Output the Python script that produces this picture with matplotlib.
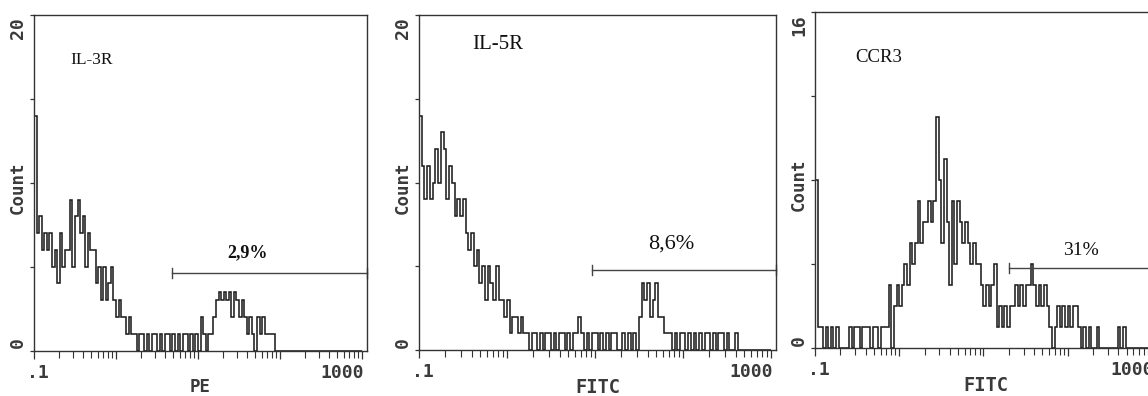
import numpy as np
import matplotlib
matplotlib.use("Agg")
import matplotlib.pyplot as plt

# ---------------- data ----------------
# 128 log-spaced channels from 0.1 to 1000 (32 channels per decade)
il3r_counts = [14,
               7, 8, 6, 7, 6,
               7, 5, 6, 4, 7, 5, 6,
               6, 9, 5, 8, 9, 7,
               8, 5, 7, 6,
               6, 4, 5, 3,
               5, 3, 4, 5,
               3, 2, 3, 2,
               2, 1, 2, 1,
               1, 0, 1, 1,
               0, 1, 0, 1, 1, 0, 1, 0, 1, 1, 0, 1, 0, 1, 0, 1, 1, 0, 1, 0,
               1, 0, 2, 1, 0, 1,
               1, 2, 3, 3.5, 3, 3.5, 3, 3.5, 2, 3.5, 3, 2, 3, 2, 1, 2, 1, 0, 2, 1,
               2, 1, 1, 1, 1, 0] + [0] * 33

il5r_counts = [14,
               11, 9, 11, 9, 10,
               12, 10, 13, 12, 9, 11, 10, 8, 9, 8, 9,
               7, 6, 7, 5, 6, 4, 5, 3, 5, 4, 3, 5, 3, 3, 2, 3, 1, 2, 2, 1, 2, 1, 1, 0, 1,
               1, 0, 1, 0, 1, 1, 0, 1, 0, 1, 1, 0, 1, 0, 1, 1, 2, 1, 0, 1, 0, 1, 1, 0,
               1, 0, 1, 0, 1, 1, 0, 0, 1, 0, 1, 0, 1, 0,
               2, 4, 3, 4, 2, 3, 4, 2, 2, 1, 1, 1,
               0, 1, 0, 1, 1, 0, 1, 0, 1, 0, 1, 0, 1, 1, 0, 1, 0, 1, 1, 0, 1, 0, 0, 1, 0] + [0] * 11

ccr3_counts = [8,
               1, 1, 0, 1, 0, 1, 0, 1, 0,
               0, 0, 0,
               1, 0, 1, 1, 0, 1, 1, 1, 0, 1, 1, 0,
               1, 1, 1,
               3, 0, 2, 3, 2, 3,
               4, 3, 5, 4, 5, 7, 5, 6, 6, 7, 6, 7, 11, 8, 5, 9, 6, 3, 7, 4, 7, 6, 5, 6, 5,
               4, 5, 4, 4, 3, 2, 3, 2, 3, 4,
               1, 2, 1, 2, 1, 2, 2, 3, 2, 3, 2, 3, 3, 4, 3, 2, 3, 2, 3, 2, 1, 0, 1, 2, 1,
               2, 1, 2, 1, 2, 2, 1, 0, 1, 0, 1, 0, 0, 1, 0,
               0, 0, 0, 0, 0, 0,
               1, 0, 1] + [0] * 10

markers = ["IL-3R", "IL-5R", "CCR3"]
channels_x = ["PE", "FITC", "FITC"]
percent_labels = ["2,9%", "8,6%", "31%"]
gate_start = [4.8, 9.3, 20.0]       # fluorescence value where the marker gate begins
gate_level = [4.6, 4.8, 3.8]        # count level of the gate bar
y_max = [20, 20, 16]
y_ticks = [[0, 5, 10, 15, 20], [0, 5, 10, 15, 20], [0, 4, 8, 12, 16]]
x_min, x_max = 0.1, 1150

assert len(il3r_counts) == 128 and len(il5r_counts) == 128 and len(ccr3_counts) == 128

# ---------------- figure ----------------
W, H = 1148, 396
fig = plt.figure(figsize=(W / 100, H / 100), dpi=100)
fig.patch.set_facecolor("white")


def add_ax(left, right, top, bottom):
    return fig.add_axes([left / W, 1 - bottom / H, (right - left) / W, (bottom - top) / H])


axes = [add_ax(34, 367, 15, 350.5), add_ax(419, 776, 15, 350), add_ax(815, 1157, 12, 348.3)]
all_counts = [il3r_counts, il5r_counts, ccr3_counts]

edges = 0.1 * 10 ** (np.arange(129) / 32.0)

mono = "DejaVu Sans Mono"
serif = "Liberation Serif"
ink = "#1e1e1e"
label_col = "#3a3a3a"

# panel-specific text layout (axes-fraction positions, font sizes)
marker_pos = [(0.108, 0.854, 12.5), (0.148, 0.900, 15), (0.117, 0.852, 13.5)]
pct_pos = [(0.640, 0.279, 13, "bold"), (0.706, 0.304, 16, "normal"), (0.778, 0.277, 14, "normal")]
xlabel_size = [12.5, 13.5, 13.5]

for i, ax in enumerate(axes):
    counts = np.asarray(all_counts[i], dtype=float)
    ax.stairs(counts, edges, color=ink, lw=1.15)

    ax.set_xscale("log")
    ax.set_xlim(x_min, x_max)
    ax.set_ylim(0, y_max[i])

    for sp in ax.spines.values():
        sp.set_color("#333333")
        sp.set_linewidth(1.0)

    ax.set_xticks([0.1, 1, 10, 100, 1000])
    ax.xaxis.set_minor_locator(matplotlib.ticker.LogLocator(base=10, subs=np.arange(2, 10)))
    ax.set_xticklabels([])
    ax.xaxis.set_minor_formatter(matplotlib.ticker.NullFormatter())
    ax.set_yticks(y_ticks[i])
    ax.set_yticklabels([])
    ax.tick_params(axis="x", which="major", direction="out", length=6, width=0.9, color="#333333")
    ax.tick_params(axis="x", which="minor", direction="out", length=5, width=0.8, color="#333333")
    ax.tick_params(axis="y", which="major", direction="out", length=3, width=0.9, color="#333333")

    # tick labels
    ax.annotate(".1", xy=(0.1, 0), xycoords=("data", "axes fraction"), xytext=(4, -13),
                textcoords="offset pixels", ha="center", va="top", fontsize=13,
                family=mono, fontweight="bold", color=label_col)
    ax.annotate("1000", xy=(1000, 0), xycoords=("data", "axes fraction"), xytext=(2, -13),
                textcoords="offset pixels", ha="right", va="top", fontsize=13,
                family=mono, fontweight="bold", color=label_col)
    ax.annotate("0", xy=(0, 0), xycoords="axes fraction", xytext=(-16, 2),
                textcoords="offset pixels", ha="center", va="bottom", rotation=90,
                fontsize=13, family=mono, fontweight="bold", color=label_col)
    ax.annotate(str(y_max[i]), xy=(0, 1), xycoords="axes fraction", xytext=(-16, -2),
                textcoords="offset pixels", ha="center", va="top", rotation=90,
                fontsize=13, family=mono, fontweight="bold", color=label_col)
    ax.annotate("Count", xy=(0, 0.485), xycoords="axes fraction", xytext=(-16, 0),
                textcoords="offset pixels", ha="center", va="center", rotation=90,
                fontsize=12.5, family=mono, fontweight="bold", color=label_col)
    ax.annotate(channels_x[i], xy=(0.5, 0), xycoords="axes fraction", xytext=(0, -28),
                textcoords="offset pixels", ha="center", va="top",
                fontsize=xlabel_size[i], family=mono, fontweight="bold", color=label_col)

    # marker name
    mx, my, ms = marker_pos[i]
    ax.text(mx, my, markers[i], transform=ax.transAxes, ha="left", va="baseline",
            fontsize=ms, family=serif, color="#111111")

    # gate bar and percentage
    cap = 0.3 * y_max[i] / 20
    gx0, gy = gate_start[i], gate_level[i]
    ax.plot([gx0, x_max], [gy, gy], color="#444444", lw=1.0, clip_on=False)
    ax.plot([gx0, gx0], [gy - cap, gy + cap], color="#444444", lw=1.0, clip_on=False)
    ax.plot([x_max, x_max], [gy - cap, gy + cap], color="#444444", lw=1.0, clip_on=False)
    px, py, ps, pw = pct_pos[i]
    ax.text(px, py, percent_labels[i], transform=ax.transAxes, ha="center", va="baseline",
            fontsize=ps, family=serif, fontweight=pw, color="#111111")

fig.savefig("out.png", dpi=100)
